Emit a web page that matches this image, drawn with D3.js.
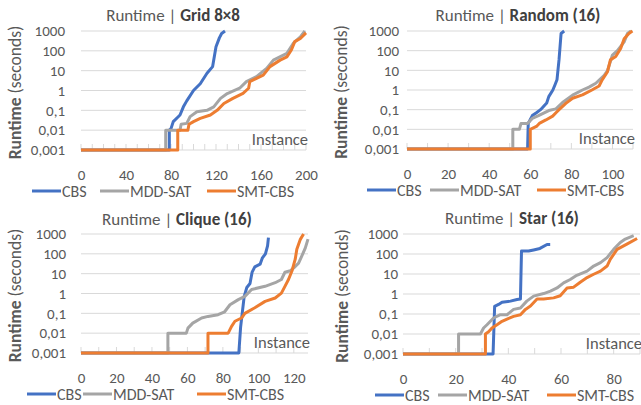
<!DOCTYPE html>
<html>
<head>
<meta charset="utf-8">
<script src="https://cdn.jsdelivr.net/npm/d3@7"></script>
<style>
  body { margin: 0; background: #fff; }
  svg text { font-family: Calibri, Carlito, Lato, "Open Sans", sans-serif; }
</style>
</head>
<body>
<svg id="canvas"></svg>
<script>
// ---- data (instance index, runtime in seconds) ----
const seriesNames = ["CBS", "MDD-SAT", "SMT-CBS"];
const yTicks = [0.001, 0.01, 0.1, 1, 10, 100, 1000];
const yTickLabels = ["0,001", "0,01", "0,1", "1", "10", "100", "1000"];

const gridCBS = [[0,0.001],[78.5,0.001],[78.5,0.01],[80,0.012],[82,0.027],[86,0.045],[88,0.058],[91,0.15],[94,0.3],[100,1],[106,2.2],[112,7.4],[117,16],[120,160],[123,450],[125,750],[128,1000]];
const gridMDD = [[0,0.001],[75.3,0.001],[75.3,0.01],[88,0.01],[89,0.02],[94,0.022],[97,0.048],[103,0.085],[112,0.1],[118,0.15],[124,0.4],[130,0.7],[141,1.3],[147,2.8],[156,5],[165,13],[171,34],[183,75],[189,250],[195,500],[199,1000]];
const gridSMT = [[0,0.001],[86,0.001],[86,0.01],[95,0.01],[96,0.02],[100,0.027],[106,0.039],[115,0.058],[121,0.1],[127,0.22],[135,0.4],[144,0.72],[149,1.3],[150,2.8],[156,4.1],[162,6],[168,16],[177,34],[183,50],[187,110],[190,290],[195,420],[200,800]];

const randCBS = [[0,0.001],[58.7,0.001],[59,0.02],[61,0.05],[63,0.07],[65,0.1],[68,0.22],[69,0.46],[71,1],[72,1.8],[73,3.3],[74,35],[75,750],[76.5,1000]];
const randMDD = [[0,0.001],[51.5,0.001],[51.5,0.01],[54.7,0.01],[55.5,0.02],[58.7,0.02],[61,0.036],[64,0.05],[69,0.09],[72.5,0.11],[75.7,0.23],[80.6,0.55],[85.4,1],[88.6,1.4],[91.9,2.2],[96,5.5],[97.6,9.8],[100,60],[102.4,100],[105.7,280],[107.3,750],[109,1000]];
const randSMT = [[0,0.001],[60,0.001],[60,0.01],[63,0.014],[64.4,0.02],[67.6,0.03],[70.9,0.047],[72.5,0.07],[74,0.1],[77.3,0.21],[80.6,0.38],[85.4,0.56],[90,1],[93.5,1.6],[95,3.3],[97.6,8.5],[99,34],[101.6,50],[104,130],[105.7,400],[108,750],[109.7,1000]];

const cliqCBS = [[0,0.001],[89,0.001],[90,0.02],[92,0.7],[93.5,2],[95.3,3.2],[96.5,12],[98,22],[101,30],[102.2,60],[104,100],[105.2,250],[105.7,650]];
const cliqMDD = [[0,0.001],[49,0.001],[49,0.01],[59.4,0.01],[60.3,0.018],[63,0.032],[68,0.058],[71.6,0.07],[77.3,0.085],[81,0.12],[84,0.27],[88.7,0.49],[92.4,0.72],[96.2,1.6],[103.8,2.3],[109.5,3.5],[113,5.1],[115,11.8],[118,14],[120.8,23],[122.7,34],[124.6,81],[126.5,200],[128,550]];
const cliqSMT = [[0,0.001],[71.6,0.001],[71.6,0.01],[83,0.01],[84.9,0.022],[86.8,0.04],[90.5,0.058],[92.4,0.1],[98,0.19],[103.8,0.4],[109.5,0.59],[113,1.05],[115,2.3],[117,5.1],[119,14],[120.8,54],[121.7,170],[123.6,520],[125.5,1000]];

const starCBS = [[0,0.001],[34.2,0.001],[34.8,0.24],[36.3,0.3],[37.6,0.39],[40.8,0.44],[43.3,0.53],[44.6,0.56],[45,140],[47.7,140],[49.6,160],[52,190],[54.7,300],[55.9,300]];
const starMDD = [[0,0.001],[21.1,0.001],[21.1,0.01],[29.4,0.01],[30.6,0.02],[31.9,0.029],[34.4,0.063],[37,0.092],[39.5,0.092],[42,0.17],[44.6,0.2],[47,0.44],[49.6,0.78],[53.4,1.05],[56,1.4],[58.5,2],[61,3.6],[63.5,5.3],[66,8.6],[69.9,14],[72.4,25],[75,37],[77.5,66],[80,170],[82.5,380],[84.4,560],[87.6,820]];
const starSMT = [[0,0.001],[31.3,0.001],[31.3,0.01],[32.5,0.013],[33.8,0.02],[35.7,0.029],[37.6,0.043],[39.5,0.056],[42,0.076],[44.6,0.092],[46.5,0.17],[48.4,0.25],[50.9,0.56],[53.4,0.56],[57.2,0.64],[59.7,0.82],[62.3,2],[64.8,2.2],[67.3,3.9],[69.9,6.6],[72.4,9.7],[75,14],[77.5,25],[78.7,54],[81.3,170],[85,310],[88.9,600]];

const colors = ["#4472C4", "#A5A5A5", "#ED7D31"];

// ---- layout per panel ----
const panels = [
  { name: "Grid 8×8", series: [gridCBS, gridMDD, gridSMT], xMax: 200, xTicks: [0,40,80,120,160,200],
    left: 81, right: 306, top: 31, bottom: 150, labRight: 65, ylabX: 15, titleX: 173, titleY: 21,
    legend: [32, 100, 207] },
  { name: "Random (16)", series: [randCBS, randMDD, randSMT], xMax: 110, xTicks: [0,20,40,60,80,100],
    left: 407, right: 633, top: 31, bottom: 149, labRight: 399, ylabX: 341, titleX: 518, titleY: 21,
    legend: [367, 430, 537] },
  { name: "Clique (16)", series: [cliqCBS, cliqMDD, cliqSMT], xMax: 128, xTicks: [0,20,40,60,80,100,120],
    left: 81, right: 308, top: 234, bottom: 353, labRight: 66, ylabX: 15, titleX: 177, titleY: 225,
    legend: [27, 83, 197] },
  { name: "Star (16)", series: [starCBS, starMDD, starSMT], xMax: 90, xTicks: [0,20,40,60,80],
    left: 403, right: 640, top: 234, bottom: 354, labRight: 398, ylabX: 342, titleX: 512, titleY: 224,
    legend: [375, 438, 547] }
];

const svg = d3.select("#canvas").attr("width", 641).attr("height", 405);

panels.forEach(p => {
  const x = d3.scaleLinear().domain([0, p.xMax]).range([p.left, p.right]);
  const y = d3.scaleLog().domain([0.001, 1000]).range([p.bottom, p.top]);
  const g = svg.append("g");

  // gridlines
  g.selectAll(".grid").data(yTicks).enter().append("line")
    .attr("x1", p.left).attr("x2", p.right)
    .attr("y1", d => y(d)).attr("y2", d => y(d))
    .attr("stroke", "#d9d9d9").attr("stroke-width", 1);

  // minor ticks on x axis
  g.selectAll(".mt").data(d3.range(0, p.xMax + 0.1, 10)).enter().append("line")
    .attr("x1", d => x(d)).attr("x2", d => x(d))
    .attr("y1", p.bottom).attr("y2", p.bottom - 6)
    .attr("stroke", "#d9d9d9").attr("stroke-width", 1);

  // y axis labels
  const yAxis = g.append("g")
    .attr("transform", `translate(${p.labRight},0)`)
    .call(d3.axisLeft(y).tickValues(yTicks).tickSize(0).tickPadding(0)
      .tickFormat((d, i) => yTickLabels[i]));
  yAxis.select(".domain").remove();
  yAxis.selectAll("text").attr("fill", "#595959").style("font-size", "15px");

  // x axis labels
  const xAxis = g.append("g")
    .attr("transform", `translate(0,${p.bottom + 19})`)
    .call(d3.axisBottom(x).tickValues(p.xTicks).tickSize(0).tickPadding(0));
  xAxis.select(".domain").remove();
  xAxis.selectAll("text").attr("fill", "#595959").style("font-size", "15px");

  // series
  const line = d3.line().x(d => x(d[0])).y(d => y(d[1]));
  p.series.forEach((s, i) => {
    g.append("path").datum(s)
      .attr("d", line)
      .attr("fill", "none")
      .attr("stroke", colors[i])
      .attr("stroke-width", 3)
      .attr("stroke-linejoin", "round");
  });

  // "Instance" label
  g.append("text")
    .attr("x", p.right + 2).attr("y", p.bottom - 5)
    .attr("text-anchor", "end")
    .attr("fill", "#595959")
    .style("font-size", "16.5px")
    .text("Instance");

  // title
  const t = g.append("text")
    .attr("x", p.titleX).attr("y", p.titleY)
    .attr("text-anchor", "middle")
    .style("font-size", "17px");
  t.append("tspan").attr("fill", "#595959").text("Runtime | ");
  t.append("tspan").attr("fill", "#404040").attr("font-weight", "bold").text(p.name);

  // y axis title
  const yl = g.append("text")
    .attr("transform", `translate(${p.ylabX + 6},${(p.top + p.bottom) / 2 + 2}) rotate(-90)`)
    .attr("text-anchor", "middle")
    .attr("fill", "#595959")
    .style("font-size", "17.5px");
  yl.append("tspan").attr("font-weight", "bold").text("Runtime");
  yl.append("tspan").text(" (seconds)");

  // legend
  const ly = p.bottom + 41;
  seriesNames.forEach((n, i) => {
    const lx = p.legend[i];
    g.append("line")
      .attr("x1", lx).attr("x2", lx + 29)
      .attr("y1", ly).attr("y2", ly)
      .attr("stroke", colors[i]).attr("stroke-width", 3);
    g.append("text")
      .attr("x", lx + 30).attr("y", ly + 6)
      .attr("fill", "#595959")
      .style("font-size", "16px")
      .text(n);
  });
});
</script>
</body>
</html>
